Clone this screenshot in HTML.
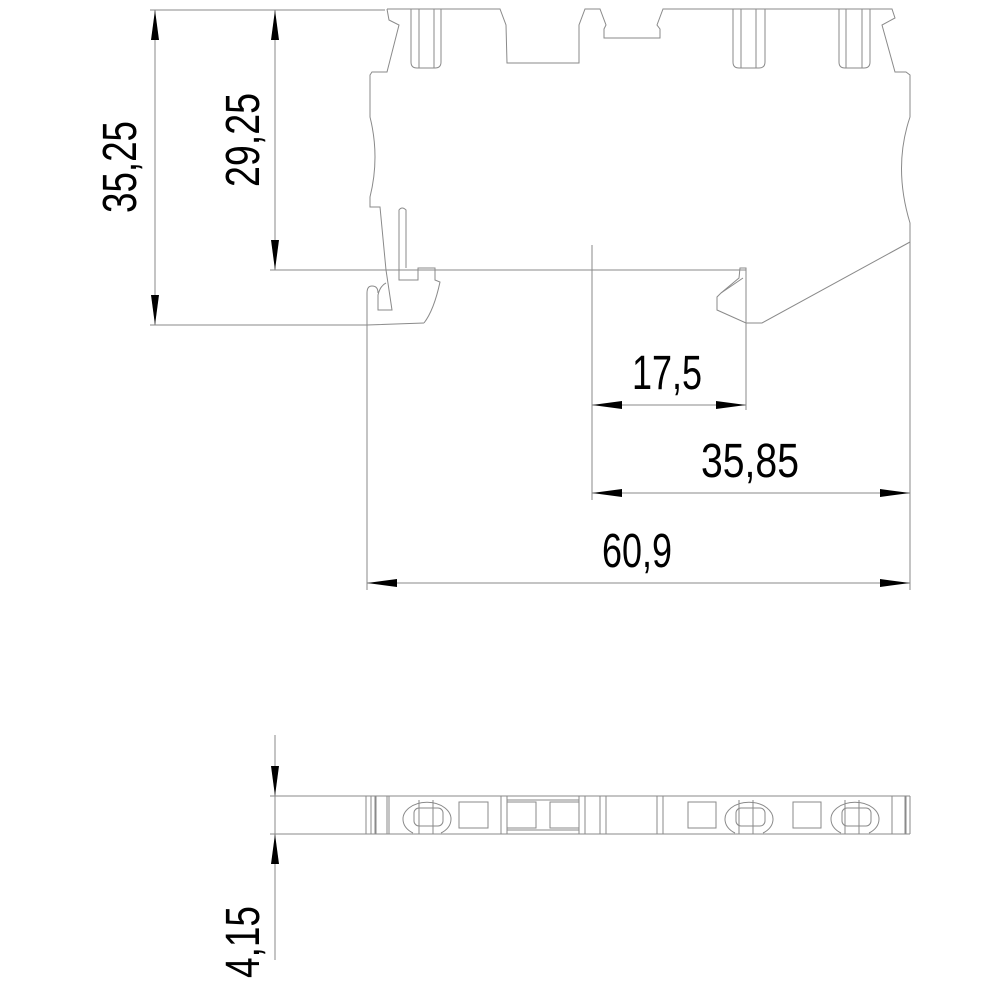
<!DOCTYPE html>
<html><head><meta charset="utf-8"><style>html,body{margin:0;padding:0;background:#fff}svg{display:block}</style></head>
<body>
<svg width="1000" height="1000" viewBox="0 0 1000 1000" xmlns="http://www.w3.org/2000/svg">
<g fill="none" stroke="#8a8a8a" stroke-width="1">
<path d="M387,9 L389,20 L399,25 L387,72 L372,72 L370,75 L370,117 Q380,157 370,197 L370,207 L380,207 L386,270 L392,310 L378,310 L378,295 Q380,286 386,283"/>
<path d="M387,9 L500,9 L506,25 L507,63 L579,63 L579,25 L585,9 L600,9 L606,25 L604,29 L604,38 L660,38 L660,29 L657,25 L663,9 L892,9 L895,18 L882,25 L895,72 L906,72 L910,75 L910,117 Q893,167 910,223 L910,590"/>
<path d="M910,242 L762,323 L746,323 L717,310 L717,297 L721,293 L739,278 L740,268 L746,268 L746,410"/>
<path d="M721,293 L743,278"/>
<path d="M270,270 L746,270"/>
<path d="M367,590 L367,293 Q367,286 372,286 Q378,286 378,293"/>
<path d="M367,325 L150,325 M424,323 L367,325"/>
<path d="M424,323 Q434,310 440,282 L435,280 L435,268 L418,268 L418,280 L399,280 L399,210 Q402,206 406,210 L406,268"/>
<path d="M150,10 L385,10"/>
<path d="M592,245 L592,500"/>
<path d="M411,9 L411,62 Q411,68 417,68 L435,68 Q441,68 441,62 L441,9 M419,9 L419,68 M434,9 L434,68"/>
<path d="M733,9 L733,62 Q733,68 739,68 L759,68 Q765,68 765,62 L765,9 M741,9 L741,68 M756,9 L756,68"/>
<path d="M839,9 L839,62 Q839,68 845,68 L864,68 Q870,68 870,62 L870,9 M846,9 L846,68 M862,9 L862,68"/>
<path d="M155,10 L155,325 M275,10 L275,270"/>
<path d="M592,405 L746,405 M592,493 L910,493 M367,583 L910,583"/>
<path d="M270,796 L910,796 M270,834 L910,834 M275,735 L275,960"/>
<path d="M366,796V834 M371,796V834 M375,796V834 M376,796V834 M387,796V834 M389,796V834 M501,796V834 M507,796V834 M579,796V834 M585,796V834 M600,796V834 M606,796V834 M657,796V834 M663,796V834 M892,796V834 M905,796V834 M906,796V834 M910,796V834"/>
<rect x="459" y="802" width="29" height="26"/>
<rect x="507" y="802" width="29" height="26"/>
<rect x="550" y="802" width="29" height="26"/>
<path d="M507,800 L579,800 M507,830 L579,830"/>
<rect x="688" y="802" width="28" height="26"/>
<rect x="793" y="802" width="28" height="26"/>
<g>
<path d="M413,833 A24,17 0 1 1 441,833"/>
<rect x="414" y="808" width="29" height="18" rx="5"/>
<path d="M419,800V834 M433,800V834"/>
</g>
<g>
<path d="M735,833 A24,17 0 1 1 763,833"/>
<rect x="736" y="808" width="29" height="18" rx="5"/>
<path d="M739,800V834 M753,800V834"/>
</g>
<g>
<path d="M841,833 A24,17 0 1 1 869,833"/>
<rect x="842" y="808" width="29" height="18" rx="5"/>
<path d="M845,800V834 M859,800V834"/>
</g>
</g>
<g fill="#000">
<polygon points="155,10 151,40 159,40"/>
<polygon points="155,325 151,295 159,295"/>
<polygon points="275,10 271,40 279,40"/>
<polygon points="275,270 271,240 279,240"/>
<polygon points="592,405 622,401 622,409"/>
<polygon points="746,405 716,401 716,409"/>
<polygon points="592,493 622,489 622,497"/>
<polygon points="910,493 880,489 880,497"/>
<polygon points="367,583 397,579 397,587"/>
<polygon points="910,583 880,579 880,587"/>
<polygon points="275,796 271,766 279,766"/>
<polygon points="275,834 271,864 279,864"/>
</g>
<g font-family="Liberation Sans, sans-serif" font-size="48" fill="#000">
<text x="136" y="213" transform="rotate(-90 136 213)" textLength="92" lengthAdjust="spacingAndGlyphs">35,25</text>
<text x="259" y="187" transform="rotate(-90 259 187)" textLength="94" lengthAdjust="spacingAndGlyphs">29,25</text>
<text x="632" y="389" textLength="70" lengthAdjust="spacingAndGlyphs">17,5</text>
<text x="701" y="477" textLength="98" lengthAdjust="spacingAndGlyphs">35,85</text>
<text x="602" y="567" textLength="70" lengthAdjust="spacingAndGlyphs">60,9</text>
<text x="259" y="978" transform="rotate(-90 259 978)" textLength="72" lengthAdjust="spacingAndGlyphs">4,15</text>
</g>
</svg>
</body></html>
